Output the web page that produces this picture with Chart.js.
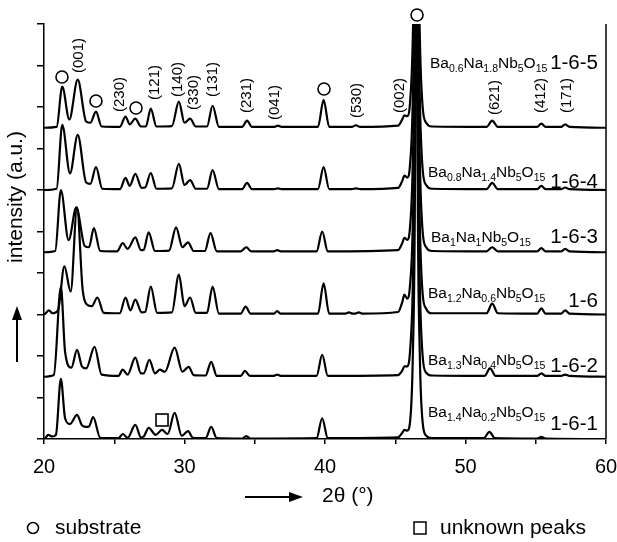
<!DOCTYPE html>
<html>
<head>
<meta charset="utf-8">
<script src="https://cdn.jsdelivr.net/npm/chart.js@4.4.1/dist/chart.umd.min.js"></script>
<style>
  html, body { margin: 0; padding: 0; background: #fff; }
  canvas { display: block; }
</style>
</head>
<body>
<canvas id="chart" width="617" height="542"></canvas>
<script>
// XRD patterns, [2theta, intensity above own baseline]
var pattern165 = [[20,0],[20.9,0.02],[21.3,0.99],[21.8,0.2],[22.4,1.16],[23.0,0.15],[23.3,0.12],[23.7,0.39],[24.1,0.03],[25.4,0.02],[25.8,0.27],[26.1,0.08],[26.5,0.22],[26.9,0.03],[27.25,0.03],[27.6,0.46],[28.0,0.03],[29.1,0.04],[29.6,0.63],[30.0,0.12],[30.4,0.22],[30.8,0.03],[31.6,0.03],[32.0,0.53],[32.45,0.02],[34.1,0.02],[34.45,0.17],[34.8,0.02],[36.4,0.02],[36.65,0.05],[36.9,0.02],[39.5,0.02],[39.9,0.67],[40.3,0.02],[41.9,0.02],[42.2,0.06],[42.5,0.02],[45.2,0.05],[45.5,0.2],[45.65,0.3],[45.85,0.28],[46.05,0.6],[46.25,2.2],[46.4,6],[46.5,16],[46.6,6],[46.75,2.2],[46.95,0.5],[47.2,0.12],[47.6,0.03],[51.5,0.02],[51.9,0.17],[52.3,0.02],[55.1,0.02],[55.4,0.1],[55.7,0.02],[56.8,0.02],[57.1,0.08],[57.4,0.02],[60,0]];
var pattern164 = [[20,0],[20.9,0.03],[21.3,1.57],[21.85,0.4],[22.4,1.33],[23.0,0.18],[23.3,0.15],[23.7,0.55],[24.15,0.03],[25.4,0.02],[25.8,0.29],[26.1,0.1],[26.5,0.39],[26.95,0.05],[27.2,0.06],[27.6,0.41],[28.0,0.03],[29.1,0.04],[29.6,0.63],[30.0,0.12],[30.4,0.24],[30.8,0.03],[31.6,0.03],[32.0,0.48],[32.45,0.02],[34.1,0.02],[34.45,0.17],[34.8,0.02],[36.4,0.02],[36.65,0.04],[36.9,0.02],[39.5,0.02],[39.9,0.55],[40.3,0.02],[41.9,0.02],[42.2,0.04],[42.5,0.02],[45.2,0.05],[45.5,0.22],[45.65,0.35],[45.85,0.3],[46.05,0.6],[46.25,2.2],[46.4,6],[46.5,16],[46.6,6],[46.75,2.2],[46.95,0.5],[47.2,0.12],[47.6,0.03],[51.5,0.02],[51.9,0.17],[52.3,0.02],[55.1,0.02],[55.4,0.1],[55.7,0.02],[56.8,0.02],[57.1,0.06],[57.4,0.02],[60,0]];
var pattern163 = [[20,0],[20.8,0.03],[21.2,1.5],[21.75,0.29],[22.3,1.08],[22.9,0.15],[23.2,0.12],[23.55,0.58],[24.0,0.03],[25.2,0.02],[25.6,0.22],[25.95,0.08],[26.5,0.36],[26.9,0.05],[27.1,0.06],[27.45,0.48],[27.9,0.03],[28.9,0.04],[29.4,0.6],[29.85,0.12],[30.25,0.24],[30.65,0.03],[31.45,0.03],[31.85,0.46],[32.3,0.02],[34.0,0.02],[34.4,0.12],[34.75,0.02],[36.35,0.02],[36.6,0.05],[36.85,0.02],[39.4,0.02],[39.8,0.5],[40.2,0.02],[45.2,0.05],[45.5,0.22],[45.65,0.35],[45.85,0.3],[46.05,0.6],[46.25,2.2],[46.4,6],[46.5,16],[46.6,6],[46.75,2.2],[46.95,0.5],[47.2,0.12],[47.6,0.03],[51.5,0.02],[51.9,0.12],[52.3,0.02],[55.1,0.02],[55.4,0.1],[55.7,0.02],[56.8,0.02],[57.1,0.08],[57.4,0.02],[60,0]];
var pattern16 = [[20,0],[20.1,0.02],[20.35,0.1],[20.6,0.03],[21.0,0.1],[21.45,1.16],[21.9,0.55],[22.35,2.58],[22.75,0.6],[23.05,0.24],[23.4,0.2],[23.8,0.41],[24.25,0.04],[25.4,0.03],[25.8,0.41],[26.15,0.1],[26.5,0.36],[26.95,0.05],[27.2,0.06],[27.6,0.67],[28.05,0.04],[29.1,0.05],[29.6,0.96],[30.0,0.2],[30.4,0.41],[30.8,0.04],[31.6,0.04],[32.0,0.67],[32.45,0.02],[34.0,0.02],[34.35,0.19],[34.7,0.02],[36.35,0.02],[36.6,0.08],[36.85,0.02],[39.5,0.02],[39.9,0.75],[40.3,0.02],[41.45,0.02],[41.7,0.05],[41.95,0.02],[42.15,0.02],[42.4,0.05],[42.65,0.02],[45.2,0.06],[45.5,0.3],[45.65,0.48],[45.85,0.38],[46.05,0.7],[46.25,2.2],[46.4,6],[46.5,16],[46.6,6],[46.75,2.2],[46.95,0.5],[47.2,0.14],[47.6,0.03],[51.5,0.03],[51.9,0.26],[52.3,0.03],[55.1,0.02],[55.4,0.15],[55.7,0.02],[56.8,0.02],[57.1,0.1],[57.4,0.02],[60,0]];
var pattern162 = [[20,0],[20.7,0.04],[21.2,2.17],[21.5,0.6],[21.95,0.22],[22.35,0.65],[22.7,0.25],[23.0,0.2],[23.6,0.72],[24.1,0.05],[25.3,0.02],[25.6,0.17],[25.95,0.05],[26.5,0.46],[26.9,0.08],[27.1,0.08],[27.5,0.41],[27.9,0.08],[28.25,0.17],[28.6,0.12],[29.3,0.7],[29.85,0.12],[30.3,0.24],[30.65,0.04],[31.5,0.03],[31.9,0.36],[32.3,0.02],[34.0,0.02],[34.3,0.14],[34.65,0.02],[36.35,0.02],[36.6,0.05],[36.85,0.02],[39.4,0.02],[39.8,0.53],[40.2,0.02],[45.2,0.04],[45.5,0.15],[45.65,0.25],[45.85,0.25],[46.05,0.6],[46.25,2.2],[46.4,6],[46.5,16],[46.6,6],[46.75,2.2],[46.95,0.5],[47.2,0.1],[47.6,0.03],[51.35,0.02],[51.75,0.2],[52.15,0.02],[55.1,0.02],[55.4,0.08],[55.7,0.02],[56.8,0.02],[57.1,0.05],[57.4,0.02],[60,0]];
var pattern161 = [[20,0],[20.1,0.02],[20.3,0.1],[20.6,0.06],[20.85,0.1],[21.2,1.45],[21.5,0.5],[21.85,0.36],[22.35,0.58],[22.7,0.33],[23.0,0.29],[23.2,0.3],[23.5,0.53],[24.0,0.03],[25.3,0.02],[25.6,0.12],[25.95,0.03],[26.5,0.34],[26.9,0.04],[27.1,0.06],[27.45,0.27],[27.95,0.1],[28.4,0.22],[28.8,0.12],[29.3,0.63],[29.8,0.08],[30.25,0.19],[30.6,0.03],[31.5,0.02],[31.9,0.29],[32.3,0.02],[34.1,0.01],[34.4,0.07],[34.7,0.01],[39.4,0.02],[39.8,0.5],[40.2,0.02],[45.2,0.04],[45.5,0.15],[45.65,0.22],[45.85,0.2],[46.05,0.4],[46.25,2.0],[46.4,6],[46.5,16],[46.6,6],[46.75,2.0],[46.95,0.4],[47.2,0.08],[47.6,0.02],[51.3,0.02],[51.7,0.17],[52.1,0.02],[55.1,0.01],[55.4,0.05],[55.7,0.01],[60,0]];

var patterns = [pattern165, pattern164, pattern163, pattern16, pattern162, pattern161];
var stackOffsets = [7.5, 6, 4.5, 3, 1.5, 0];
var sampleNames = ['1-6-5', '1-6-4', '1-6-3', '1-6', '1-6-2', '1-6-1'];
var baAmounts = ['0.6', '0.8', '1', '1.2', '1.3', '1.4'];
var naAmounts = ['1.8', '1.4', '1', '0.6', '0.4', '0.2'];

var millerLabels = ['(001)', '(230)', '(121)', '(140)', '(330)', '(131)', '(231)', '(041)', '(530)', '(002)', '(621)', '(412)', '(171)'];
var millerTheta = [22.49, 25.41, 27.9, 29.54, 30.68, 32.03, 34.45, 36.44, 42.28, 45.34, 52.1, 55.37, 57.22];
var substrateTheta = [21.28, 23.7, 26.55, 39.93, 46.55];
var unknownTheta = [28.4];

var xTicks = [20, 30, 40, 50, 60];

var FONT = '"Liberation Sans", Arial, Helvetica, sans-serif';

function fillRotated(ctx, text, x, y, deg) {
  ctx.save();
  ctx.translate(x, y);
  ctx.rotate(deg / 180 * Math.PI);
  ctx.fillText(text, 0, 0);
  ctx.restore();
}

// Ba_x Na_y Nb_5 O_15 with subscripts
function drawFormula(ctx, x, y, ba, na) {
  var parts = [['Ba', 0], [ba, 1], ['Na', 0], [na, 1], ['Nb', 0], ['5', 1], ['O', 0], ['15', 1]];
  ctx.textAlign = 'left';
  ctx.textBaseline = 'alphabetic';
  for (var i = 0; i < parts.length; i++) {
    if (parts[i][1]) {
      ctx.font = '10.5px ' + FONT;
      ctx.fillText(parts[i][0], x, y + 4);
    } else {
      ctx.font = '15.5px ' + FONT;
      ctx.fillText(parts[i][0], x, y);
    }
    x += ctx.measureText(parts[i][0]).width;
  }
}

var decorations = {
  id: 'decorations',
  afterDraw: function(chart) {
    var ctx = chart.ctx;
    var area = chart.chartArea;
    var xs = chart.scales.x;
    var ys = chart.scales.y;
    ctx.save();
    ctx.fillStyle = '#000';
    ctx.strokeStyle = '#000';

    // right frame line
    ctx.lineWidth = 1.5;
    ctx.beginPath();
    ctx.moveTo(area.right, area.top);
    ctx.lineTo(area.right, area.bottom);
    ctx.stroke();

    // y title + arrow
    ctx.font = '21px ' + FONT;
    ctx.textAlign = 'center';
    ctx.textBaseline = 'middle';
    fillRotated(ctx, 'intensity (a.u.)', 16, 197, -90);
    ctx.lineWidth = 2;
    ctx.beginPath();
    ctx.moveTo(17, 362);
    ctx.lineTo(17, 318);
    ctx.stroke();
    ctx.beginPath();
    ctx.moveTo(17, 306);
    ctx.lineTo(12, 320);
    ctx.lineTo(22, 320);
    ctx.closePath();
    ctx.fill();

    // x title + arrow
    ctx.beginPath();
    ctx.moveTo(245, 497);
    ctx.lineTo(291, 497);
    ctx.stroke();
    ctx.beginPath();
    ctx.moveTo(303, 497);
    ctx.lineTo(289, 492);
    ctx.lineTo(289, 502);
    ctx.closePath();
    ctx.fill();
    ctx.textAlign = 'left';
    ctx.fillText('2\u03b8 (\u00b0)', 322, 496);

    // legend
    ctx.lineWidth = 1.5;
    ctx.beginPath();
    ctx.arc(33, 528, 5.5, 0, Math.PI * 2);
    ctx.stroke();
    ctx.fillText('substrate', 55, 528);
    ctx.strokeRect(414, 522, 12, 12);
    ctx.fillText('unknown peaks', 440, 528);

    // miller indices above the top pattern
    var millerBottom = [73, 112, 100, 97, 110, 97, 113, 120, 118, 113, 115, 113, 113];
    ctx.font = '15px ' + FONT;
    ctx.textAlign = 'left';
    ctx.textBaseline = 'middle';
    for (var i = 0; i < millerLabels.length; i++) {
      fillRotated(ctx, millerLabels[i], xs.getPixelForValue(millerTheta[i]), millerBottom[i], -90);
    }

    // substrate circles and unknown-peak square
    var circleY = [77, 101, 108, 89, 15];
    ctx.lineWidth = 1.6;
    for (var j = 0; j < substrateTheta.length; j++) {
      ctx.beginPath();
      ctx.arc(xs.getPixelForValue(substrateTheta[j]), circleY[j], 6, 0, Math.PI * 2);
      ctx.stroke();
    }
    for (var k = 0; k < unknownTheta.length; k++) {
      ctx.strokeRect(xs.getPixelForValue(unknownTheta[k]) - 6, 414, 12, 12);
    }

    // sample labels
    var formulaX = [430, 428, 431, 428, 428, 428];
    var formulaUp = [60, 13, 10, 17, 12, 22];
    var nameUp = [59, 2, 9, 8, 5, 9];
    for (var s = 0; s < sampleNames.length; s++) {
      var base = ys.getPixelForValue(stackOffsets[s]);
      drawFormula(ctx, formulaX[s], base - formulaUp[s], baAmounts[s], naAmounts[s]);
      ctx.font = '20.5px ' + FONT;
      ctx.textAlign = 'right';
      ctx.textBaseline = 'alphabetic';
      ctx.fillText(sampleNames[s], 598, base - nameUp[s]);
    }
    ctx.restore();
  }
};

var datasets = patterns.map(function(p, i) {
  return {
    label: sampleNames[i],
    data: p.map(function(pt) { return { x: pt[0], y: pt[1] + stackOffsets[i] }; }),
    borderColor: '#000',
    borderWidth: 2.2,
    pointRadius: 0,
    fill: false,
    cubicInterpolationMode: 'monotone'
  };
});

var ctx = document.getElementById('chart').getContext('2d');
var chart = new Chart(ctx, {
  type: 'line',
  data: { datasets: datasets },
  options: {
    responsive: false,
    animation: false,
    layout: { padding: { left: 37, top: 24, right: 11, bottom: 52 } },
    plugins: { legend: { display: false }, tooltip: { enabled: false } },
    scales: {
      x: {
        type: 'linear',
        min: 20,
        max: 60,
        afterFit: function(scale) { scale.paddingLeft = 0; scale.paddingRight = 0; },
        ticks: {
          stepSize: 5,
          autoSkip: false,
          maxRotation: 0,
          padding: 11,
          color: '#000',
          font: { size: 20, family: FONT },
          callback: function(v) { return xTicks.indexOf(v) >= 0 ? String(v) : ''; }
        },
        grid: { drawOnChartArea: false, drawTicks: true, tickLength: 5, color: '#000', lineWidth: 1.5 },
        border: { color: '#000', width: 1.5 }
      },
      y: {
        min: 0,
        max: 10,
        ticks: { stepSize: 1, display: false },
        grid: { drawOnChartArea: false, drawTicks: true, tickLength: 7, color: '#000', lineWidth: 1.5 },
        border: { color: '#000', width: 1.5 }
      }
    }
  },
  plugins: [decorations]
});
</script>
</body>
</html>
